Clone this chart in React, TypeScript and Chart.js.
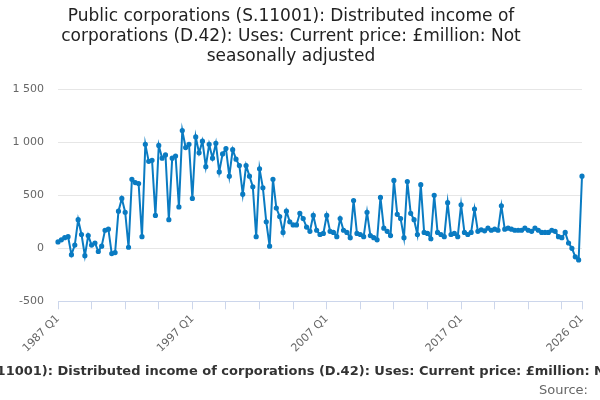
import React, { useEffect, useRef } from "react";
import { Chart, registerables } from "chart.js";
Chart.register(...registerables);

const TITLE = "Public corporations (S.11001): Distributed income of corporations (D.42): Uses: Current price: £million: Not seasonally adjusted";
const START_YEAR = 1987;
const VALUES = [
  60,80,100,110,-60,30,270,130,-70,120,
  30,50,-30,20,170,180,-50,-40,350,470,
  340,10,650,620,610,110,980,820,830,310,
  970,850,880,270,850,870,390,1110,950,
  980,470,1050,900,1010,770,980,850,990,720,
  890,940,680,930,840,780,510,780,680,
  580,110,750,570,250,20,
  650,380,300,150,350,250,220,220,330,280,
  200,160,310,170,130,140,310,160,150,110,
  280,170,150,100,450,140,130,110,340,120,
  100,80,480,190,160,120,640,320,280,100,
  630,330,270,130,600,150,140,90,500,150,
  130,110,430,130,140,110,410,150,130,150,
  370,160,175,165,190,170,180,170,400,
  180,190,180,170,170,170,190,170,160,190,170,150,150,150,170,160,110,100,150,50,0,-80,-110,680,
];
const LABELS = VALUES.map((_, i) => `${START_YEAR + Math.floor(i / 4)} Q${(i % 4) + 1}`);
const Y_MIN = -500, Y_MAX = 1500, Y_STEP = 500;

export default function App() {
  const ref = useRef<HTMLCanvasElement>(null);
  useEffect(() => {
    const last = LABELS.length - 1;
    const textPlugin = {
      id: "txt",
      afterDraw(c: any) {
        const ctx = c.ctx;
        ctx.save();
        ctx.font = "bold 13px 'DejaVu Sans'";
        ctx.fillStyle = "#333";
        ctx.textAlign = "center";
        ctx.textBaseline = "middle";
        ctx.fillText(TITLE, 300, 372);
        ctx.font = "13px 'DejaVu Sans'";
        ctx.fillStyle = "#666";
        ctx.textAlign = "right";
        ctx.fillText("Source:", 588, 391);
        ctx.restore();
      },
    };
    const chart = new Chart(ref.current!, {
      type: "line",
      data: {
        labels: LABELS,
        datasets: [{
          data: VALUES,
          borderColor: "#0a7bc2",
          backgroundColor: "#0a7bc2",
          borderWidth: 2,
          pointRadius: 1.6,
          pointHoverRadius: 1.6,
          tension: 0,
        }],
      },
      plugins: [textPlugin],
      options: {
        animation: false,
        responsive: false,
        layout: { padding: { left: 0, right: 18, bottom: 42 } },
        plugins: {
          legend: { display: false },
          tooltip: { enabled: false },
          title: {
            display: true,
            text: ["Public corporations (S.11001): Distributed income of", "corporations (D.42): Uses: Current price: £million: Not", "seasonally adjusted"],
            font: { family: "'DejaVu Sans'", size: 17, weight: "normal" },
            color: "#222",
            padding: { top: 6, bottom: 22 },
            lineHeight: 1.2,
          },
        },
        scales: {
          x: {
            afterBuildTicks(s: any) {
              s.ticks = s.ticks.filter((t: any) => t.value % 10 === 0 || t.value === last);
            },
            ticks: {
              autoSkip: false,
              maxRotation: 45,
              minRotation: 45,
              color: "#666",
              font: { family: "'DejaVu Sans'", size: 11 },
              callback: (v: any) => (v % 40 === 0 || v === last ? LABELS[v] : ""),
            },
            grid: { drawOnChartArea: false, drawTicks: true, tickLength: 8, color: "#ccd6eb" },
            border: { color: "#ccd6eb" },
          },
          y: {
            min: Y_MIN,
            max: Y_MAX,
            afterFit(s: any) { s.width = 58; },
            ticks: {
              stepSize: Y_STEP,
              color: "#666",
              padding: 14,
              font: { family: "'DejaVu Sans'", size: 11 },
              callback: (v: any) => (Math.abs(v) >= 1000 ? String(v).replace(/(\d)(\d{3})$/, "$1 $2") : String(v)),
            },
            grid: { color: "#e6e6e6", drawTicks: false },
            border: { display: false },
          },
        },
      },
    });
    return () => chart.destroy();
  }, []);
  return (
    <div style={{ position: "fixed", left: 0, top: 0, width: 600, height: 400, background: "#fff" }}>
      <canvas ref={ref} width={600} height={400} />
    </div>
  );
}
